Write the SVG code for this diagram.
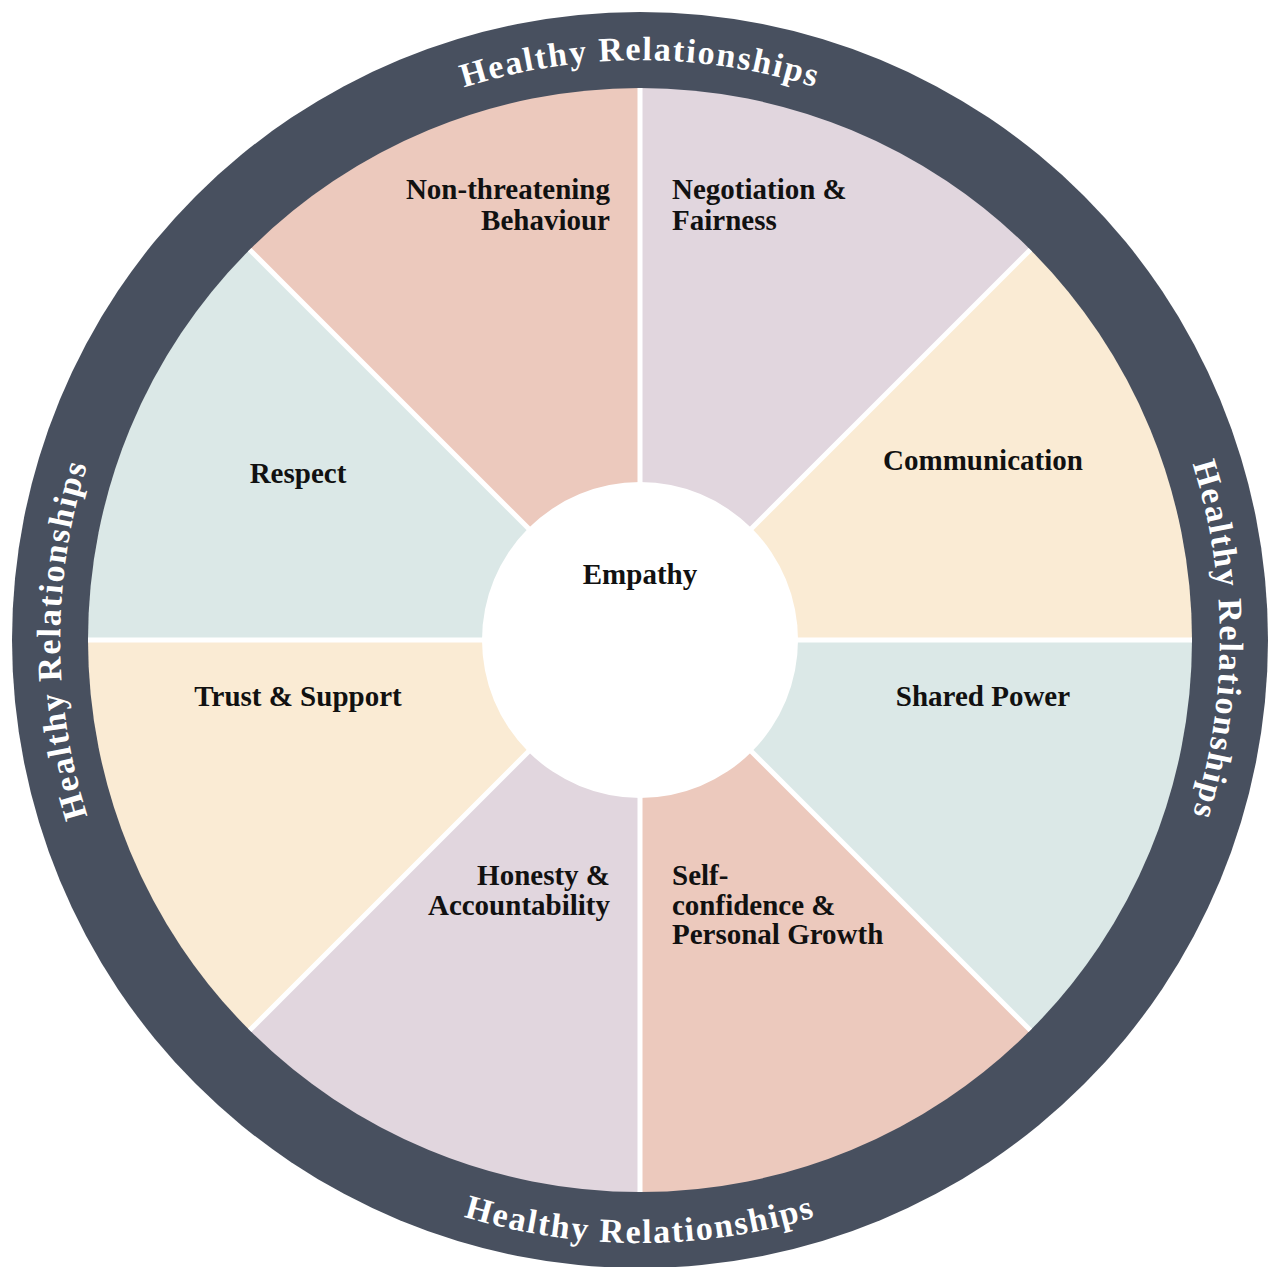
<svg xmlns="http://www.w3.org/2000/svg" width="1270" height="1267" viewBox="0 0 1270 1267">
  <style>
    .lbl { font-family: "Liberation Serif", "Times New Roman", serif; font-weight: bold; font-size: 29px; fill: #111111; }
    .ring { font-family: "Liberation Serif", "Times New Roman", serif; font-weight: bold; font-size: 34px; fill: #ffffff; letter-spacing: 1.8px; }
    .pink { fill: #ecc9bd; }
    .lav { fill: #e1d6de; }
    .cream { fill: #faebd4; }
    .teal { fill: #dbe8e7; }
    .sep { stroke: #ffffff; stroke-width: 5; }
  </style>
  <defs>
    <path id="arcTop" d="M 60 640 A 580 580 0 0 1 1220 640"/>
    <path id="arcLeft" d="M 640 1220 A 580 580 0 0 1 640 60"/>
    <path id="arcRight" d="M 640 60 A 580 580 0 0 1 640 1220"/>
    <path id="arcBottom" d="M 37 640 A 603 603 0 0 0 1243 640"/>
  </defs>
  <rect x="0" y="0" width="1270" height="1267" fill="#ffffff"/>

  <g id="ring">
    <circle cx="640" cy="640" r="628" fill="#48505f"/>
    <text class="ring"><textPath href="#arcTop" startOffset="50%" text-anchor="middle">Healthy Relationships</textPath></text>
    <text class="ring"><textPath href="#arcLeft" startOffset="50%" text-anchor="middle">Healthy Relationships</textPath></text>
    <text class="ring"><textPath href="#arcRight" startOffset="50%" text-anchor="middle">Healthy Relationships</textPath></text>
    <text class="ring"><textPath href="#arcBottom" startOffset="50%" text-anchor="middle">Healthy Relationships</textPath></text>
  </g>

  <g id="negotiation">
    <path class="lav" d="M 640 640 L 640 88 A 552 552 0 0 1 1030.32 249.68 Z"/>
    <text class="lbl" x="672" y="199">Negotiation &amp;</text>
    <text class="lbl" x="672" y="230">Fairness</text>
  </g>
  <g id="communication">
    <path class="cream" d="M 640 640 L 1030.32 249.68 A 552 552 0 0 1 1192 640 Z"/>
    <text class="lbl" x="983" y="470" text-anchor="middle">Communication</text>
  </g>
  <g id="shared-power">
    <path class="teal" d="M 640 640 L 1192 640 A 552 552 0 0 1 1030.32 1030.32 Z"/>
    <text class="lbl" x="983" y="706" text-anchor="middle">Shared Power</text>
  </g>
  <g id="self-confidence">
    <path class="pink" d="M 640 640 L 1030.32 1030.32 A 552 552 0 0 1 640 1192 Z"/>
    <text class="lbl" x="672" y="885">Self-</text>
    <text class="lbl" x="672" y="915">confidence &amp;</text>
    <text class="lbl" x="672" y="944">Personal Growth</text>
  </g>
  <g id="honesty">
    <path class="lav" d="M 640 640 L 640 1192 A 552 552 0 0 1 249.68 1030.32 Z"/>
    <text class="lbl" x="610" y="885" text-anchor="end">Honesty &amp;</text>
    <text class="lbl" x="610" y="915" text-anchor="end">Accountability</text>
  </g>
  <g id="trust">
    <path class="cream" d="M 640 640 L 249.68 1030.32 A 552 552 0 0 1 88 640 Z"/>
    <text class="lbl" x="298" y="706" text-anchor="middle">Trust &amp; Support</text>
  </g>
  <g id="respect">
    <path class="teal" d="M 640 640 L 88 640 A 552 552 0 0 1 249.68 249.68 Z"/>
    <text class="lbl" x="298" y="483" text-anchor="middle">Respect</text>
  </g>
  <g id="non-threatening">
    <path class="pink" d="M 640 640 L 249.68 249.68 A 552 552 0 0 1 640 88 Z"/>
    <text class="lbl" x="610" y="199" text-anchor="end">Non-threatening</text>
    <text class="lbl" x="610" y="230" text-anchor="end">Behaviour</text>
  </g>

  <g id="separators">
    <line class="sep" x1="640" y1="88" x2="640" y2="1192"/>
    <line class="sep" x1="88" y1="640" x2="1192" y2="640"/>
    <line class="sep" x1="249.68" y1="249.68" x2="1030.32" y2="1030.32"/>
    <line class="sep" x1="1030.32" y1="249.68" x2="249.68" y2="1030.32"/>
  </g>

  <g id="empathy">
    <circle cx="640" cy="640" r="158" fill="#ffffff"/>
    <text class="lbl" x="640" y="584" text-anchor="middle">Empathy</text>
  </g>
</svg>
